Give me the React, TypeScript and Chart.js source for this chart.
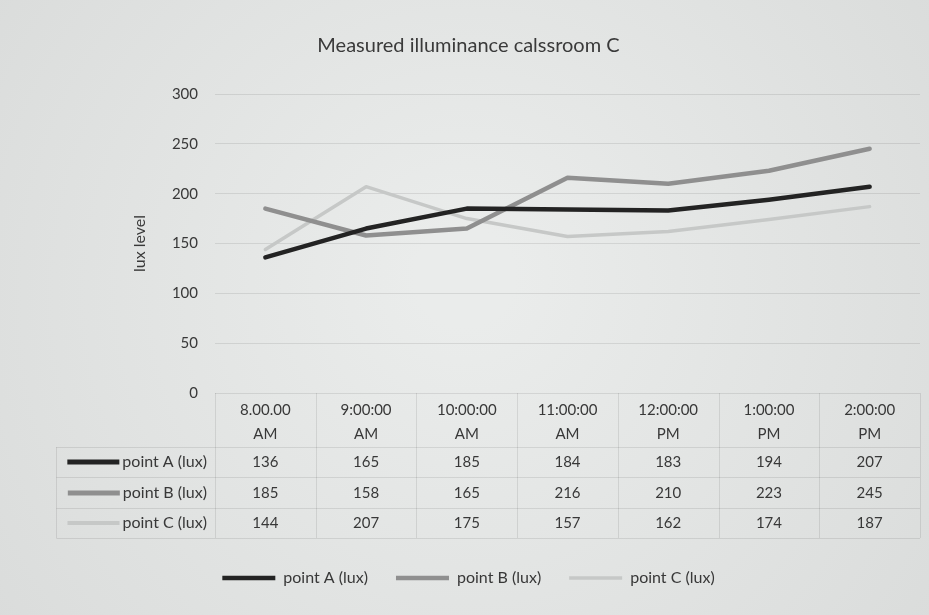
import React, { useEffect, useRef } from 'react';
import { Chart, registerables } from 'chart.js';

Chart.register(...registerables);

const chartTitle = 'Measured illuminance calssroom C';
const yAxisTitle = 'lux level';
const categories: string[][] = [
  ['8.00.00', 'AM'],
  ['9:00:00', 'AM'],
  ['10:00:00', 'AM'],
  ['11:00:00', 'AM'],
  ['12:00:00', 'PM'],
  ['1:00:00', 'PM'],
  ['2:00:00', 'PM'],
];
const seriesNames = ['point A (lux)', 'point B (lux)', 'point C (lux)'];
const pointA = [136, 165, 185, 184, 183, 194, 207];
const pointB = [185, 158, 165, 216, 210, 223, 245];
const pointC = [144, 207, 175, 157, 162, 174, 187];
const yMin = 0;
const yMax = 300;
const yStep = 50;

const seriesValues = [pointA, pointB, pointC];
const seriesColors = ['#232323', '#8f8f8f', '#c6c8c7'];
const seriesWidths = [4.5, 4.5, 3.5];

const FONT = 'Lato, "Open Sans", "DejaVu Sans", sans-serif';
const TEXT = '#383838';
const LINE = 'rgba(0,0,0,0.09)';

const bgPlugin = {
  id: 'photoBg',
  beforeDraw(chart: any) {
    const { ctx, width, height } = chart;
    ctx.save();
    const g = ctx.createRadialGradient(width * 0.5, height * 0.45, 50, width * 0.5, height * 0.5, width * 0.65);
    g.addColorStop(0, '#eaeceb');
    g.addColorStop(1, '#d9dbda');
    ctx.fillStyle = g;
    ctx.fillRect(0, 0, width, height);
    ctx.restore();
  },
};

const tablePlugin = {
  id: 'dataTable',
  afterDraw(chart: any) {
    const { ctx, chartArea } = chart;
    const x = chart.scales.x;
    const b = chartArea.bottom;
    const n = categories.length;
    const step = x.getPixelForValue(1) - x.getPixelForValue(0);
    const left = x.getPixelForValue(0) - step / 2;
    const right = x.getPixelForValue(n - 1) + step / 2;
    const rowLines = [b + 54, b + 84, b + 115, b + 145];
    const rowCenters = [b + 69, b + 100, b + 130];

    ctx.save();
    ctx.font = `16px ${FONT}`;
    const labelW = Math.max(...seriesNames.map((s) => ctx.measureText(s).width));
    const keyLen = 52;
    const tableLeft = left - 8 - labelW - 4 - keyLen - 10;

    // grid lines of the table
    ctx.strokeStyle = LINE;
    ctx.lineWidth = 1;
    ctx.beginPath();
    for (let i = 0; i <= n; i++) {
      const xx = Math.round(left + i * step) + 0.5;
      ctx.moveTo(xx, b);
      ctx.lineTo(xx, rowLines[3]);
    }
    rowLines.forEach((yy) => {
      ctx.moveTo(tableLeft, Math.round(yy) + 0.5);
      ctx.lineTo(right, Math.round(yy) + 0.5);
    });
    ctx.moveTo(Math.round(tableLeft) + 0.5, rowLines[0]);
    ctx.lineTo(Math.round(tableLeft) + 0.5, rowLines[3]);
    ctx.stroke();

    // row labels with legend keys
    seriesNames.forEach((name, r) => {
      const y = rowCenters[r];
      ctx.font = `16px ${FONT}`;
      ctx.fillStyle = TEXT;
      ctx.textAlign = 'right';
      ctx.textBaseline = 'middle';
      ctx.fillText(name, left - 8, y);
      const tw = ctx.measureText(name).width;
      const keyEnd = left - 8 - tw - 3;
      ctx.strokeStyle = seriesColors[r];
      ctx.lineWidth = seriesWidths[r] + 0.5;
      ctx.lineCap = 'butt';
      ctx.beginPath();
      ctx.moveTo(keyEnd - keyLen, y);
      ctx.lineTo(keyEnd, y);
      ctx.stroke();
    });

    // values
    ctx.font = `15px ${FONT}`;
    ctx.fillStyle = TEXT;
    ctx.textAlign = 'center';
    ctx.textBaseline = 'middle';
    seriesValues.forEach((vals, r) => {
      vals.forEach((v, i) => {
        ctx.fillText(String(v), x.getPixelForValue(i), rowCenters[r]);
      });
    });
    ctx.restore();
  },
};

export default function App() {
  const ref = useRef<HTMLCanvasElement | null>(null);

  useEffect(() => {
    document.body.style.margin = '0';
    const canvas = ref.current;
    if (!canvas) return;
    const chart = new Chart(canvas, {
      type: 'line',
      data: {
        labels: categories,
        datasets: seriesNames.map((name, i) => ({
          label: name,
          data: seriesValues[i],
          borderColor: seriesColors[i],
          backgroundColor: seriesColors[i],
          borderWidth: seriesWidths[i],
          pointRadius: 0,
          pointHoverRadius: 0,
          tension: 0,
          fill: false,
          borderCapStyle: 'round' as const,
          borderJoinStyle: 'round' as const,
        })),
      },
      options: {
        responsive: false,
        animation: false,
        maintainAspectRatio: false,
        layout: { padding: { left: 17, right: 9, top: 0, bottom: 19 } },
        plugins: {
          title: {
            display: true,
            text: chartTitle,
            color: '#3a3a3a',
            font: { family: FONT, size: 20, weight: 'normal' },
            padding: { top: 34, bottom: 36 },
          },
          legend: {
            display: true,
            position: 'bottom',
            labels: {
              usePointStyle: true,
              pointStyle: 'line',
              pointStyleWidth: 53,
              boxHeight: 16,
              padding: 28,
              color: TEXT,
              font: { family: FONT, size: 16 },
            },
          },
          tooltip: { enabled: false },
        },
        scales: {
          x: {
            type: 'category',
            offset: true,
            grid: { display: false, drawTicks: false },
            border: { display: false },
            ticks: {
              color: TEXT,
              font: { family: FONT, size: 15, lineHeight: 1.55 },
              padding: 6,
              maxRotation: 0,
              autoSkip: false,
            },
            afterFit: (scale: any) => {
              scale.height = 149;
            },
          },
          y: {
            min: yMin,
            max: yMax,
            grid: { color: LINE, lineWidth: 1, drawTicks: false },
            border: { display: false },
            ticks: {
              stepSize: yStep,
              color: TEXT,
              font: { family: FONT, size: 15 },
              padding: 17,
            },
            title: {
              display: true,
              text: yAxisTitle,
              color: TEXT,
              font: { family: FONT, size: 16 },
              padding: { top: 113, bottom: 0 },
            },
            afterFit: (scale: any) => {
              scale.width = 198;
            },
          },
        },
      },
      plugins: [bgPlugin, tablePlugin],
    });
    return () => chart.destroy();
  }, []);

  return (
    <div style={{ width: 929, height: 615 }}>
      <canvas ref={ref} width={929} height={615} style={{ display: 'block' }} />
    </div>
  );
}
